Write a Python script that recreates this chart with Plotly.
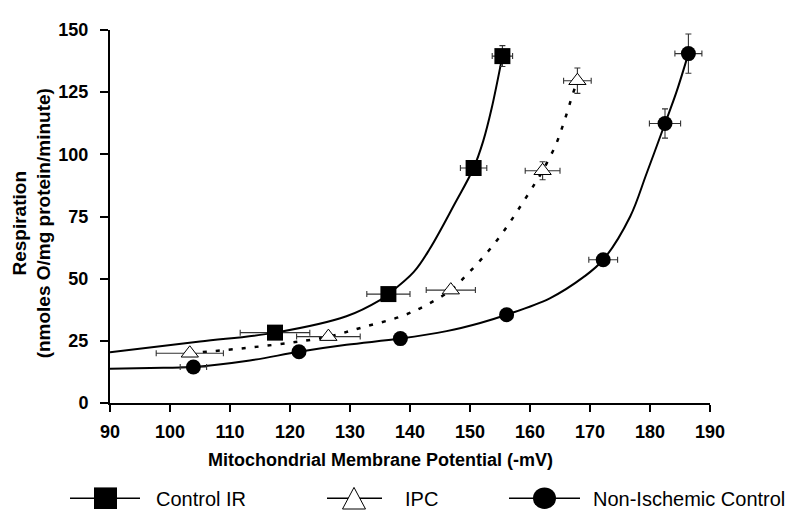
import plotly.graph_objects as go

# ---- Data ----
ctrl_x = [117.5, 136.4, 150.6, 155.4]
ctrl_y = [28.3, 43.8, 94.5, 139.5]
ctrl_xerr = [5.8, 3.6, 2.2, 1.7]
ctrl_yerr = [1.0, 1.0, 1.5, 4.2]

ipc_x = [103.3, 126.4, 146.8, 162.1, 167.9]
ipc_y = [20.0, 26.7, 45.4, 93.4, 129.6]
ipc_xerr = [5.6, 5.3, 4.1, 2.9, 2.3]
ipc_yerr = [1.0, 1.0, 1.0, 3.6, 5.1]

nic_x = [103.9, 121.5, 138.4, 156.1, 172.2, 182.5, 186.4]
nic_y = [14.5, 20.6, 25.9, 35.5, 57.6, 112.4, 140.5]
nic_xerr = [2.2, 1.0, 1.0, 1.0, 2.4, 2.6, 2.25]
nic_yerr = [1.0, 1.0, 1.0, 1.0, 1.5, 5.9, 7.9]

# fitted curves
ctrl_fit_x = [90, 105, 117.5, 129.4, 135, 136.4, 140.6, 143.3, 147.5, 150.6, 152.2, 153.6, 155.4]
ctrl_fit_y = [20.4, 24.7, 28.3, 34.9, 41.4, 43.8, 52.6, 62.0, 80.3, 94.5, 105.3, 118.4, 139.5]

ipc_fit_x = [103.3, 117, 126.4, 132.2, 138.6, 142.8, 146.8, 150, 153.1, 155.8, 158.3, 160.8, 162.1, 164.2, 165.7, 167.1, 167.9]
ipc_fit_y = [20.0, 23.3, 26.7, 30.5, 34.9, 39.5, 45.4, 52.9, 61.2, 69.7, 78.7, 88.2, 93.4, 103.3, 113.2, 124.0, 129.6]

nic_fit_x = [90, 96.7, 103.9, 113.3, 121.5, 129.4, 138.4, 146.1, 151.7, 156.1, 163.3, 168.9, 172.2, 176.7, 179.4, 182.5, 184.4, 186.4]
nic_fit_y = [13.8, 14.1, 14.5, 17.1, 20.6, 23.4, 25.9, 28.9, 32.2, 35.5, 42.1, 50.6, 57.6, 75.0, 92.1, 112.4, 125.0, 140.5]

x_ticks = [90, 100, 110, 120, 130, 140, 150, 160, 170, 180, 190]
y_ticks = [0, 25, 50, 75, 100, 125, 150]

series_names = ["Control IR", "IPC", "Non-Ischemic Control"]

FONT = "Liberation Sans, Arial, sans-serif"
OFF = 8  # page body margin
W, H = 800 - OFF, 526 - OFF
L, T = 110 - OFF, 23 - OFF
PW, PH = 600, 380
R = W - L - PW
B = H - T - PH

fig = go.Figure()

err_style = dict(type="data", color="#333333", thickness=1.1, width=3)

# fitted lines
fig.add_trace(go.Scatter(x=ctrl_fit_x, y=ctrl_fit_y, mode="lines", line=dict(color="black", width=2, shape="spline"),
                         showlegend=False, hoverinfo="skip"))
fig.add_trace(go.Scatter(x=ipc_fit_x, y=ipc_fit_y, mode="lines", line=dict(color="black", width=2.5, shape="spline", dash="4px,9px"),
                         showlegend=False, hoverinfo="skip"))
fig.add_trace(go.Scatter(x=nic_fit_x, y=nic_fit_y, mode="lines", line=dict(color="black", width=2, shape="spline"),
                         showlegend=False, hoverinfo="skip"))

# data points with error bars
fig.add_trace(go.Scatter(x=ctrl_x, y=ctrl_y, mode="markers", name=series_names[0],
                         marker=dict(symbol="square", size=16, color="black"),
                         error_x=dict(array=ctrl_xerr, **err_style), error_y=dict(array=ctrl_yerr, **err_style),
                         showlegend=False))
fig.add_trace(go.Scatter(x=ipc_x, y=ipc_y, mode="markers", name=series_names[1],
                         marker=dict(symbol="triangle-up", size=15, color="white", line=dict(color="black", width=1)),
                         error_x=dict(array=ipc_xerr, **err_style), error_y=dict(array=ipc_yerr, **err_style),
                         showlegend=False))
fig.add_trace(go.Scatter(x=nic_x, y=nic_y, mode="markers", name=series_names[2],
                         marker=dict(symbol="circle", size=15, color="black"),
                         error_x=dict(array=nic_xerr, **err_style), error_y=dict(array=nic_yerr, **err_style),
                         showlegend=False))

# helpers: window pixel positions (for legend / titles) -> paper coords
def px(xp):
    return (xp - OFF - L) / PW

def py(yp):
    return (T + PH - (yp - OFF)) / PH

shapes = []
annotations = []
leg_y = 500
# legend: Control IR
shapes.append(dict(type="line", xref="paper", yref="paper", x0=px(70), x1=px(140), y0=py(leg_y), y1=py(leg_y),
                   line=dict(color="black", width=1.5)))
shapes.append(dict(type="rect", xref="paper", yref="paper", x0=px(94), x1=px(117), y0=py(leg_y - 11), y1=py(leg_y + 11),
                   fillcolor="black", line=dict(color="black", width=0)))
# legend: IPC
shapes.append(dict(type="line", xref="paper", yref="paper", x0=px(327), x1=px(382), y0=py(leg_y), y1=py(leg_y),
                   line=dict(color="black", width=1.5)))
tri = "M {},{} L {},{} L {},{} Z".format(px(342.5), py(leg_y + 11), px(365.5), py(leg_y + 11), px(354), py(leg_y - 11))
shapes.append(dict(type="path", xref="paper", yref="paper", path=tri, fillcolor="white", line=dict(color="black", width=1)))
# legend: Non-Ischemic Control
shapes.append(dict(type="line", xref="paper", yref="paper", x0=px(509), x1=px(580), y0=py(leg_y), y1=py(leg_y),
                   line=dict(color="black", width=1.5)))
shapes.append(dict(type="circle", xref="paper", yref="paper", x0=px(533), x1=px(556), y0=py(leg_y - 11), y1=py(leg_y + 11),
                   fillcolor="black", line=dict(color="black", width=0)))

for name, xl in zip(series_names, [154, 403, 591]):
    annotations.append(dict(text=name, xref="paper", yref="paper", x=px(xl), y=py(leg_y + 1), xanchor="left", yanchor="middle",
                            showarrow=False, font=dict(family=FONT, size=20, color="black")))

# axis titles
annotations.append(dict(text="<b>Mitochondrial Membrane Potential (-mV)</b>", xref="paper", yref="paper",
                        x=px(380), y=py(461), xanchor="center", yanchor="middle", showarrow=False,
                        font=dict(family=FONT, size=18, color="black")))
annotations.append(dict(text="<b>Respiration</b><br><b>(nmoles O/mg protein/minute)</b>", xref="paper", yref="paper",
                        x=px(32), y=py(220), xanchor="center", yanchor="middle", showarrow=False, textangle=-90,
                        font=dict(family=FONT, size=19, color="black")))

fig.update_layout(
    width=W, height=H,
    margin=dict(l=L, r=R, t=T, b=B),
    paper_bgcolor="white", plot_bgcolor="white",
    showlegend=False,
    shapes=shapes, annotations=annotations,
    font=dict(family=FONT, color="black"),
)
fig.update_xaxes(range=[90, 190], tickvals=x_ticks, ticktext=[str(v) for v in x_ticks],
                 showgrid=False, zeroline=False, showline=True, linecolor="black", linewidth=2,
                 ticks="outside", ticklen=7, tickwidth=2, tickcolor="black",
                 tickfont=dict(family=FONT, size=18, color="black", weight="bold"), ticklabelstandoff=4)
fig.update_yaxes(range=[0, 150], tickvals=y_ticks, ticktext=[str(v) for v in y_ticks],
                 showgrid=False, zeroline=False, showline=True, linecolor="black", linewidth=2,
                 ticks="outside", ticklen=8, tickwidth=2, tickcolor="black",
                 tickfont=dict(family=FONT, size=18, color="black", weight="bold"), ticklabelstandoff=8)

fig.write_html("out.html")
